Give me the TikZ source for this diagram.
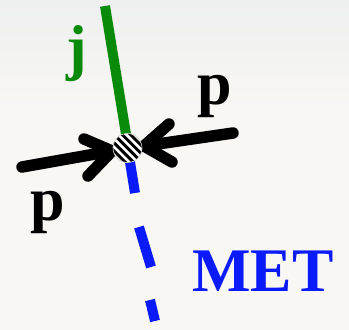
\documentclass[tikz,border=0pt]{standalone}
\usepackage{fontspec}
\setmainfont{Liberation Serif}
\usetikzlibrary{calc}
\definecolor{bgtop}{HTML}{EEEFEF}
\definecolor{bgbot}{HTML}{F8F7F4}
\definecolor{jgreen}{HTML}{0A8A0A}
\definecolor{metblue}{HTML}{0A1AF8}
\begin{document}
\begin{tikzpicture}[x=1pt,y=-1pt,
  bigtxt/.style={font=\fontsize{62}{62}\selectfont\bfseries, inner sep=0pt},
  beam/.style={line width=11.5pt, line cap=round, black},
  jetline/.style={line width=10pt, jgreen},
  metline/.style={line width=10pt, metblue}]
\useasboundingbox (0,0) rectangle (349,330);
\shade[top color=bgtop, bottom color=bgbot] (0,0) rectangle (349,110);
\fill[bgbot] (0,110) rectangle (349,330);
% vertex
\coordinate (v) at (127.5,148);
% jet
\coordinate (jend) at (105,6);
\draw[jetline] (jend) -- (126,134);
% MET dashes
\coordinate (m1a) at (130,162);
\coordinate (m1b) at (135,193);
\coordinate (m2a) at (139,227);
\coordinate (m2b) at (151,267);
\coordinate (m3a) at (150,300);
\coordinate (m3b) at (155,321);
\draw[metline] (m1a) -- (m1b);
\draw[metline] (m2a) -- (m2b);
\draw[metline] (m3a) -- (m3b);
% left beam
\coordinate (l0) at (22,167);
\coordinate (ltip) at (112,151);
\coordinate (la1) at (84,139);
\coordinate (la2) at (88,176);
\draw[beam] (l0) -- (ltip);
\draw[beam, line join=round] (la1) -- (ltip) -- (la2);
% right beam
\coordinate (r0) at (233,133);
\coordinate (rtip) at (144,146);
\coordinate (ra1) at (169,124);
\coordinate (ra2) at (172,162);
\draw[beam] (r0) -- (rtip);
\draw[beam, line join=round] (ra1) -- (rtip) -- (ra2);
% vertex blob
\begin{scope}
  \clip (v) circle (14.5);
  \fill[white] (v) circle (14.5);
  \foreach \k in {-4,...,4} {
    \draw[line width=2.9pt, black] ($(v)+(\k*5.8*0.707,-\k*5.8*0.707)+(-20,-20)$) -- ++(40,40);
  }
\end{scope}
\draw[gray!40, line width=0.6pt] (v) circle (14.5);
% labels
\node[bigtxt, jgreen] (j) at (77,54) {j};
\node[bigtxt, black] (pr) at (215,96) {p};
\node[bigtxt, black] (pl) at (48,212) {p};
\node[bigtxt, metblue] (met) at (263,271) {MET};
\end{tikzpicture}
\end{document}
